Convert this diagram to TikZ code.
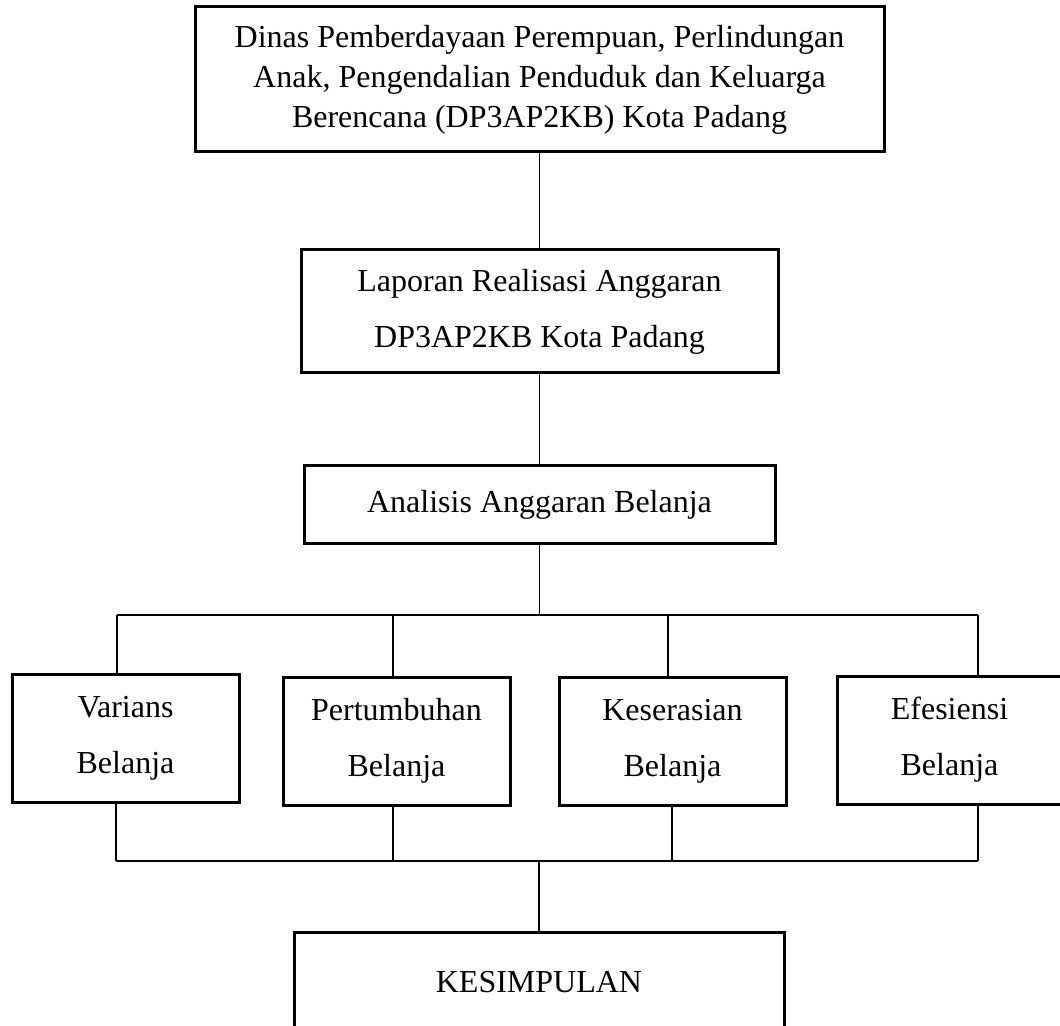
\documentclass[tikz,border=0pt]{standalone}
\usepackage{fontspec}
\setmainfont{Liberation Serif}

\tikzset{
 kotak/.style={draw, line width=1.5pt, align=center, inner sep=0pt,
  font=\fontsize{16}{28}\selectfont},
 garis/.style={line width=0.6pt}
}

\def\ytop{615}
\def\ybot{861}

\begin{document}
\begin{tikzpicture}[x=0.5pt,y=-0.5pt]
 \useasboundingbox (0,0) rectangle (1060,1026);
 % Main column
 \node[kotak, minimum width=344.5pt, minimum height=72.5pt,
  font=\fontsize{16}{20}\selectfont] (dinas) at (539.5,79.5)
  {Dinas Pemberdayaan Perempuan, Perlindungan\\Anak, Pengendalian Penduduk dan Keluarga\\Berencana (DP3AP2KB) Kota Padang};
 \node[kotak, minimum width=238.5pt, minimum height=61.5pt] (laporan) at (539.5,311.5)
  {Laporan Realisasi Anggaran\\DP3AP2KB Kota Padang};
 \node[kotak, minimum width=235.5pt, minimum height=38.5pt] (analisis) at (539.5,504.5)
  {Analisis Anggaran Belanja};
 % Analyses
 \node[kotak, minimum width=113.5pt, minimum height=64pt] (varians) at (125.5,738) {Varians\\Belanja};
 \node[kotak, minimum width=113.5pt, minimum height=64pt] (pertumbuhan) at (396.5,741) {Pertumbuhan\\Belanja};
 \node[kotak, minimum width=113.5pt, minimum height=64pt] (keserasian) at (672.5,741) {Keserasian\\Belanja};
 \node[kotak, minimum width=112.5pt, minimum height=64pt] (efesiensi) at (949.5,740) {Efesiensi\\Belanja};
 % Conclusion
 \node[kotak, minimum width=245pt, minimum height=50pt] (kesimpulan) at (539,982) {KESIMPULAN};
 % Vertical lines
 \draw[garis] (dinas) -- (laporan);
 \draw[garis] (laporan) -- (analisis);
 \foreach \n/\a/\b in {varians/117/116, pertumbuhan/393/393, keserasian/668/672, efesiensi/978/978} {
  \coordinate (a\n) at (\a,\ytop);
  \coordinate (b\n) at (\b,\ybot);
  \draw[garis] (a\n) -- (a\n |- \n.north);
  \draw[garis] (\n.south -| b\n) -- (b\n);
 }
 % Horizontal lines
 \draw[garis] (avarians) -- (aefesiensi);
 \draw[garis] (bvarians) -- (befesiensi);
 \draw[garis] (analisis.south) -- (analisis.south |- avarians);
 \draw[garis] (kesimpulan.north |- bvarians) -- (kesimpulan.north);
\end{tikzpicture}
\end{document}
